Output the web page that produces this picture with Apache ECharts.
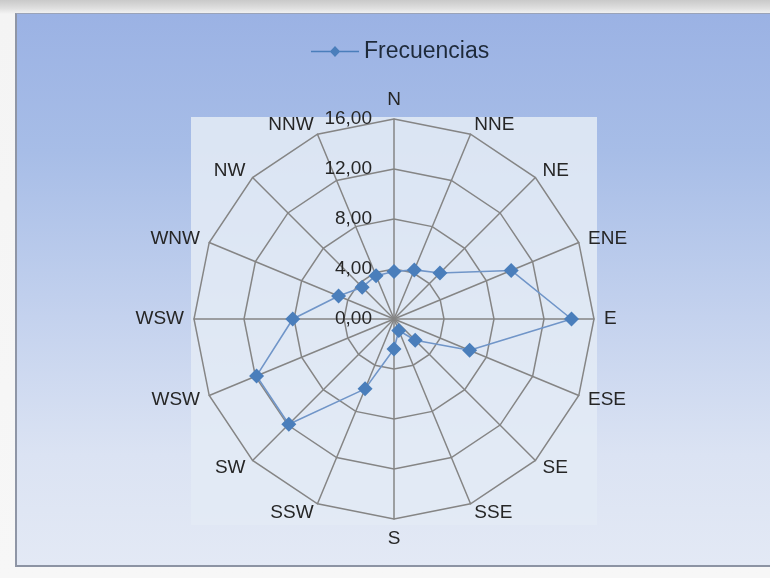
<!DOCTYPE html>
<html>
<head>
<meta charset="utf-8">
<script src="https://cdn.jsdelivr.net/npm/echarts@6/dist/echarts.min.js"></script>
<style>
  html, body { margin: 0; padding: 0; width: 770px; height: 578px; overflow: hidden;
    background: linear-gradient(to bottom, #c9c9c9 0px, #dedede 8px, #f4f4f4 14px, #f7f7f7 100%); }
  #frame { position: absolute; left: 15px; top: 13px; width: 770px; height: 551px;
    border-left: 2px solid #8f96a6; border-top: 1px solid #9aa3b8; border-bottom: 2px solid #8c93a3;
    background: linear-gradient(to bottom, #9bb2e4 0%, #a7bde7 25%, #c4d2ee 55%, #dbe3f3 80%, #e3e9f5 100%); }
  #chart { position: absolute; left: 0; top: 0; width: 770px; height: 578px; }
</style>
</head>
<body>
<div id="frame"></div>
<div id="chart"></div>
<script>
const directions = ['N','NNE','NE','ENE','E','ESE','SE','SSE','S','SSW','SW','WSW','WSW','WNW','NW','NNW'];
const frecuencias = [3.8, 4.25, 5.2, 10.15, 14.2, 6.55, 2.4, 1.0, 2.4, 6.05, 11.9, 11.9, 8.1, 4.8, 3.6, 3.75];
const axisMax = 16;
const seriesName = 'Frecuencias';

// ECharts radar places indicators counter-clockwise; reorder so they run clockwise from N.
const order = directions.map((_, i) => (directions.length - i) % directions.length);
const orderedNames = order.map(i => directions[i]);
const orderedValues = order.map(i => frecuencias[i]);

const chart = echarts.init(document.getElementById('chart'), null, { renderer: 'canvas' });

const indicator = orderedNames.map((d, i) => {
  const o = { name: d, min: 0, max: axisMax };
  if (i !== 0) o.axisLabel = { show: false };
  return o;
});

chart.setOption({
  backgroundColor: 'transparent',
  animation: false,
  graphic: [{
    type: 'rect', left: 191, top: 117, z: -10,
    shape: { width: 406, height: 408 },
    style: { fill: 'rgba(226,234,245,0.88)' }
  }],
  legend: {
    top: 35, left: 306,
    data: [seriesName],
    itemWidth: 48, itemHeight: 12, itemGap: 5,
    icon: 'path://M0,5.2 L19.5,5.2 L24,0.5 L28.5,5.2 L48,5.2 L48,6.8 L28.5,6.8 L24,11.5 L19.5,6.8 L0,6.8 Z',
    textStyle: { fontFamily: 'Liberation Sans, Arial, sans-serif', fontSize: 23, color: '#1e2a3a' }
  },
  radar: {
    center: [394, 319],
    radius: 200,
    startAngle: 90,
    shape: 'polygon',
    splitNumber: 4,
    indicator: indicator,
    axisName: { color: '#262626', fontFamily: 'Liberation Sans, Arial, sans-serif', fontSize: 19 },
    nameGap: 10,
    axisLine: { lineStyle: { color: '#858585', width: 1.5 } },
    splitLine: { lineStyle: { color: '#858585', width: 1.5 } },
    splitArea: { show: false },
    axisTick: { show: false },
    axisLabel: {
      show: true,
      color: '#262626',
      fontFamily: 'Liberation Sans, Arial, sans-serif',
      fontSize: 19,
      margin: 22,
      formatter: v => v.toFixed(2).replace('.', ',')
    }
  },
  series: [{
    name: seriesName,
    type: 'radar',
    symbol: 'diamond',
    symbolSize: 15,
    itemStyle: { color: '#4a7ebb' },
    lineStyle: { color: '#7095c8', width: 1.6 },
    data: [{ value: orderedValues, name: seriesName }]
  }]
});
</script>
</body>
</html>
